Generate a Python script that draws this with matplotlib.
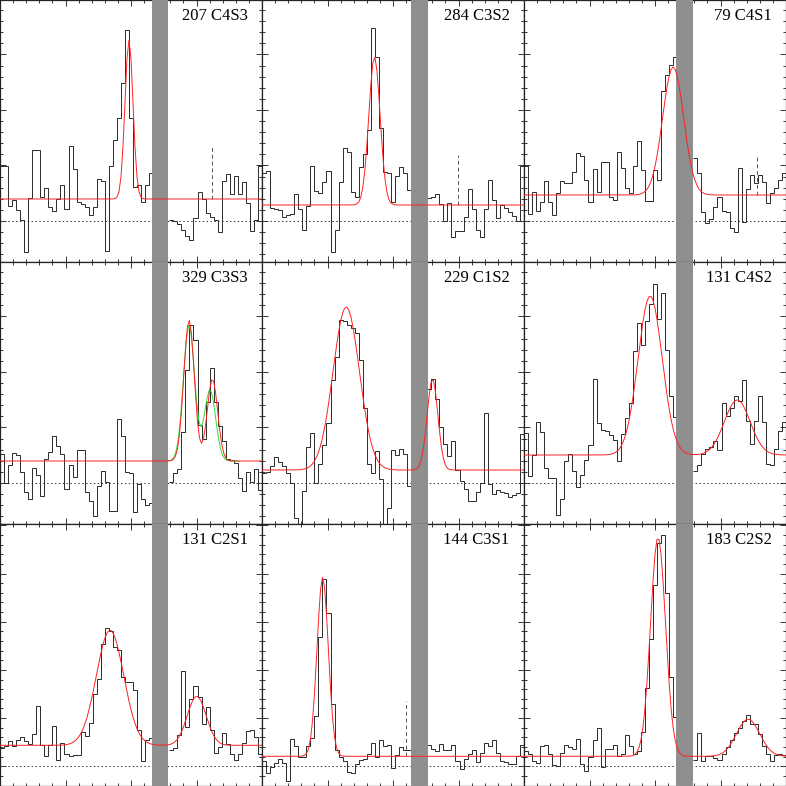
import numpy as np
import matplotlib
matplotlib.use("Agg")
import matplotlib.pyplot as plt
from matplotlib.ticker import MultipleLocator

NBIN = 65

labels = ["207 C4S3", "284 C3S2", "79 C4S1",
          "329 C3S3", "229 C1S2", "131 C4S2",
          "131 C2S1", "144 C3S1", "183 C2S2"]

# spectra: values left of the masked region and right of it
p1_left = [55, 55, 15, 21, 11, 1, -31, 23, 71, 71, 24, 33, 14, 10, 22, 36, 12, 75, 52, 19,
           17, 14, 6, 14, 42, 40, -30, 55, 81, 103, 138, 191, 103, 34, 36, 19, 36, 48]
p1_right = [1, 0, -3, -9, -15, -19, 3, 29, 22, 8, 4, 1, -11, 40, 47, 27, 45, 27, 39, 18, -10, 1, 55]

p2_left = [48, 50, 13, 12, 11, 4, 6, 7, 27, 12, -9, 15, 55, 30, 28, 39, 50, -31, -9, 39,
           73, 69, 29, 24, 54, 67, 91, 193, 164, 93, 49, 48, 19, 45, 54, 48, 31]
p2_right = [23, 24, 27, 17, 0, 18, -16, -10, -10, 4, 32, 12, -9, -16, 12, 41, 21, 3, 16, 13, 9, 5, 0, 55]

p3_left = [55, 7, 29, 10, 19, 40, 19, 6, 28, 40, 38, 38, 49, 68, 65, 41, 19, 52, 29, 59,
           59, 24, 21, 69, 53, 33, 28, 55, 80, 51, 20, 20, 51, 41, 130, 146, 156, 164]
p3_right = [63, 48, 9, -2, 2, 14, 24, 10, 9, -7, -11, 53, -1, 32, 46, 38, 46, 39, 18, 28, 33, 41, 48]

p4_left = [29, 0, 18, 30, 28, 11, -9, -16, 15, 8, -13, 24, 31, 47, 37, 29, -6, 18, 6, 33,
           33, -9, -18, -33, -3, 12, 1, -28, -28, 64, 47, 11, 10, -29, -1, -16, -22, -20]
p4_right = [1, 10, 14, 51, 113, 158, 143, 58, 44, 81, 115, 81, 57, 42, 24, 23, 20, 5, -8, 11, 1, 14, -7]

p5_left = [10, 11, 17, 26, 21, 17, 10, 0, -35, -46, -8, 36, 50, 0, 19, 38, 60, 103, 126, 163,
           162, 158, 155, 150, 123, 75, 19, 10, 32, 4, -42, -25, 33, 28, 34, 29, -3]
p5_right = [94, 104, 84, 56, 39, 27, 42, 13, 2, -6, -18, -18, -9, 0, 70, -1, -11, -7, -9, -10, -14, -12, -10, 49]

p6_left = [50, 7, 28, 61, 51, 15, 5, 5, -32, -16, 22, 29, 12, -4, 8, 23, 38, 104, 60, 53,
           52, 48, 43, 22, 49, 65, 80, 132, 160, 138, 162, 179, 199, 164, 190, 133, 87, 66]
p6_right = [12, 18, 29, 34, 36, 42, 33, 80, 67, 75, 87, 82, 103, 62, 39, 62, 87, 61, 19, 18, 34, 52, 61]

p7_left = [18, 20, 25, 20, 26, 29, 25, 22, 32, 60, 21, 10, 21, 40, 6, 23, 12, 10, 11, 11,
           34, 30, 43, 72, 87, 122, 138, 135, 119, 116, 89, 84, 84, 76, 36, 5, 26, 28]
p7_right = [16, 18, 31, 95, 39, 67, 80, 69, 42, 59, 36, 13, 19, 33, 22, 12, 6, 12, 23, 35, 36, 29, 12]

p8_left = [5, -7, -1, 3, 7, 3, -15, 27, 20, 9, 9, 20, 28, 50, 129, 187, 153, 62, 16, 9,
           5, -6, -7, 2, 6, 7, 12, 23, 9, 26, 20, 21, -2, 11, 19, 16, 16]
p8_right = [21, 17, 15, 22, 16, 16, 21, 5, -3, 7, 12, 16, 4, 13, 23, 20, 26, 13, 5, 4, 2, 2, 10, 21]

p9_left = [15, 12, 5, 3, 20, 21, 12, 1, 0, 13, 21, 19, 17, 27, 2, -5, 9, 26, 38, -1,
           17, 17, 21, 10, 12, 31, 20, 12, 15, 34, 78, 127, 181, 223, 231, 173, 89, 49]
p9_right = [6, 33, 5, 10, 10, 8, 6, 12, 19, 26, 33, 38, 45, 51, 42, 42, 32, 20, 12, 5, 11, 12, 11]

lefts = [p1_left, p2_left, p3_left, p4_left, p5_left, p6_left, p7_left, p8_left, p9_left]
rights = [p1_right, p2_right, p3_right, p4_right, p5_right, p6_right, p7_right, p8_right, p9_right]

# masked (grey) velocity ranges, in bins
gap_lo = [37.7, 37.0, 37.6, 37.6, 37.0, 37.6, 37.6, 37.0, 37.6]
gap_hi = [41.7, 41.1, 41.9, 41.6, 41.1, 41.9, 41.6, 41.1, 41.9]

# Gaussian fits (red)
fit_cont = [22, 16, 26, 22, 13, 28, 21, 10, 10]
fit_amp = [[159], [148], [128], [141, 82], [163, 91], [159, 55], [115, 49], [179], [219, 37]]
fit_cen = [[32.0], [27.9], [37.0], [46.9, 52.7], [20.9, 42.3], [31.3, 52.9], [27.3, 48.8], [15.05], [33.25, 55.6]]
fit_sig = [[1.0], [1.4], [2.6], [1.3, 1.3], [3.27, 1.33], [3.0, 3.2], [3.4, 2.35], [1.4], [1.86, 2.9]]

# alternative fit (green) for panel 4, drawn over its fitted window
alt_cont = 22
alt_amp = [136, 71]
alt_cen = [46.9, 52.1]
alt_sig = [1.4, 1.4]
alt_range = (41.8, 59.5)

# dashed markers: panel index, x, y-bottom, y-top
mark_panel = [0, 1, 2, 7]
mark_x = [52.7, 48.6, 57.9, 35.7]
mark_y0 = [22, 16, 26, 10]
mark_y1 = [75, 66, 65, 65]

# y-ranges per row
row_ylim = [(-41, 221), (-41, 221), (-19.7, 242.3)]
row_ymajor = [55.5, 55.5, 48.2]


def gauss_model(x, cont, amps, cens, sigs):
    y = np.full_like(x, float(cont))
    for a, c, s in zip(amps, cens, sigs):
        y += a * np.exp(-0.5 * ((x - c) / s) ** 2)
    return y


fig = plt.figure(figsize=(7.86, 7.86), dpi=100)
xs = np.arange(0, NBIN + 0.25, 0.5)

for k in range(9):
    r, c = divmod(k, 3)
    ax = fig.add_axes([c / 3, 1 - (r + 1) / 3, 1 / 3, 1 / 3])
    ax.set_xlim(0, NBIN)
    ax.set_ylim(*row_ylim[r])

    lv = np.array(lefts[k], float)
    rv = np.array(rights[k], float)
    ax.stairs(lv, np.arange(len(lv) + 1), baseline=None, color="#2a2a2a", lw=0.7, zorder=2)
    ax.stairs(rv, np.arange(NBIN - len(rv), NBIN + 1), baseline=None, color="#2a2a2a", lw=0.7, zorder=2)

    ax.axhline(0, color="#333333", lw=0.7, ls=(0, (1.5, 2.5)), zorder=1)
    ax.axvspan(gap_lo[k], gap_hi[k], color="#8f8f8f", lw=0, zorder=3)

    if k == 3:
        xa = np.arange(alt_range[0], alt_range[1] + 0.01, 0.5)
        ax.plot(xa, gauss_model(xa, alt_cont, alt_amp, alt_cen, alt_sig),
                color="#33dd33", lw=0.7, zorder=4)
    ax.plot(xs, gauss_model(xs, fit_cont[k], fit_amp[k], fit_cen[k], fit_sig[k]),
            color="#ff2020", lw=0.7, zorder=5)

    for p, mx, y0, y1 in zip(mark_panel, mark_x, mark_y0, mark_y1):
        if p == k:
            ax.plot([mx, mx], [y0, y1], color="#555555", lw=0.7, ls=(0, (4, 3)), zorder=2)

    ax.text(0.945, 0.968, labels[k], transform=ax.transAxes, ha="right", va="top",
            fontsize=12, family=["Liberation Serif", "DejaVu Serif"], zorder=6)

    ax.xaxis.set_major_locator(MultipleLocator(NBIN / 4))
    ax.xaxis.set_minor_locator(MultipleLocator(NBIN / 20))
    ax.yaxis.set_major_locator(MultipleLocator(row_ymajor[r]))
    ax.yaxis.set_minor_locator(MultipleLocator(row_ymajor[r] / 5))
    ax.tick_params(which="both", direction="in", top=True, right=True,
                   labelbottom=False, labelleft=False, width=0.7, color="#333333")
    ax.tick_params(which="major", length=4.0)
    ax.tick_params(which="minor", length=2.0)
    for s in ax.spines.values():
        s.set_linewidth(0.9)
        s.set_color("#222222")

fig.savefig("out.png", dpi=100)
